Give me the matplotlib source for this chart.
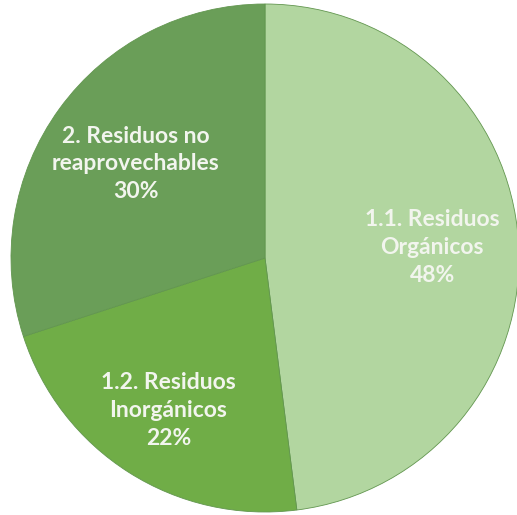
import numpy as np
import matplotlib.pyplot as plt

labels = ['1.1. Residuos\nOrgánicos\n48%',
          '1.2. Residuos\nInorgánicos\n22%',
          '2. Residuos no\nreaprovechables\n30%']
values = [48, 22, 30]
colors = ['#b2d6a0', '#70ad47', '#6a9e58']
label_dist = [0.66, 0.71, 0.63]

fig = plt.figure(figsize=(5.17, 5.15), dpi=100)
ax = fig.add_axes([0, 0, 1, 1])
ax.set_aspect('equal')
ax.axis('off')

cx, cy, r = 265, 257, 254
wedges, _ = ax.pie(values, colors=colors, startangle=90, counterclock=False,
                   center=(cx, cy), radius=r,
                   wedgeprops=dict(edgecolor='#62964f', linewidth=0.6))
ax.set_xlim(0, 517)
ax.set_ylim(0, 515)

for w, lab, d in zip(wedges, labels, label_dist):
    ang = np.deg2rad((w.theta1 + w.theta2) / 2)
    x = cx + d * r * np.cos(ang)
    y = cy + d * r * np.sin(ang)
    ax.text(x, y, lab, ha='center', va='center', color='#f2f5ee',
            fontsize=16.5, fontweight='bold', family=['Lato', 'DejaVu Sans'],
            linespacing=1.4)

fig.savefig('out.png', dpi=100)
